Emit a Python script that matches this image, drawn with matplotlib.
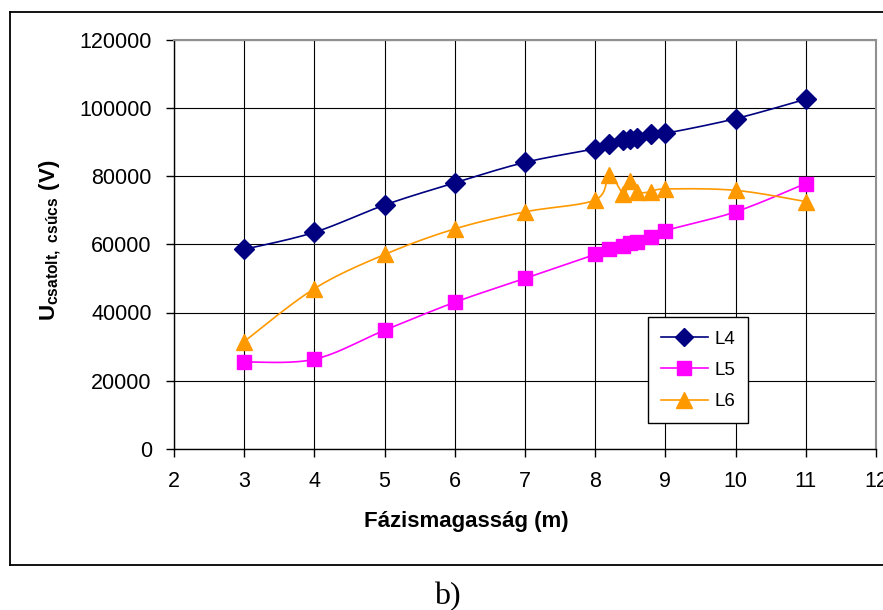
import numpy as np
import matplotlib.pyplot as plt
from matplotlib.lines import Line2D

# -----------------------------------------------------------------------------
# Data
# -----------------------------------------------------------------------------
height_m = [3, 4, 5, 6, 7, 8, 8.2, 8.4, 8.5, 8.6, 8.8, 9, 10, 11]

u_L4 = [58500, 63500, 71500, 78000, 84000, 88000, 89300, 90500, 90800, 91200,
        92200, 92500, 96800, 102500]
u_L5 = [25500, 26300, 34800, 43000, 50000, 57000, 58500, 59500, 60300, 60800,
        62000, 64000, 69500, 77800]
u_L6 = [31500, 47000, 57000, 64500, 69500, 73000, 80300, 74800, 78600, 75300,
        75400, 76200, 75800, 72500]

series_names = ['L4', 'L5', 'L6']
x_ticks = [2, 3, 4, 5, 6, 7, 8, 9, 10, 11, 12]
y_ticks = [0, 20000, 40000, 60000, 80000, 100000, 120000]

plt.rcParams['font.family'] = ['Liberation Sans', 'DejaVu Sans']
plt.rcParams['mathtext.fontset'] = 'custom'
plt.rcParams['mathtext.rm'] = 'Liberation Sans'
plt.rcParams['mathtext.bf'] = 'Liberation Sans:bold'


def smooth_line(x, y, steps=20):
    """Excel-like smoothed line: cubic Bezier segments with 1/6 tangents."""
    p = np.column_stack([x, y]).astype(float)
    n = len(p)
    out = [p[0]]
    t = np.linspace(0, 1, steps)[1:, None]
    for i in range(n - 1):
        prev_pt = p[i - 1] if i > 0 else p[i]
        next_pt = p[i + 2] if i + 2 < n else p[i + 1]
        c1 = p[i] + (p[i + 1] - prev_pt) / 6.0
        c2 = p[i + 1] - (next_pt - p[i]) / 6.0
        seg = ((1 - t) ** 3) * p[i] + 3 * ((1 - t) ** 2) * t * c1 \
            + 3 * (1 - t) * t ** 2 * c2 + t ** 3 * p[i + 1]
        out.extend(seg)
    out = np.array(out)
    return out[:, 0], out[:, 1]


fig = plt.figure(figsize=(8.83, 6.10), dpi=100)
W, H = 883.0, 610.0

# outer chart frame (right edge runs off the picture)
fig.add_artist(Line2D([10 / W, 10 / W], [1 - 12 / H, 1 - 565 / H], color='black', lw=1.3))
fig.add_artist(Line2D([10 / W, 1.0], [1 - 12 / H, 1 - 12 / H], color='black', lw=1.3))
fig.add_artist(Line2D([10 / W, 1.0], [1 - 565 / H, 1 - 565 / H], color='black', lw=1.3))

ax = fig.add_axes([174 / W, 1 - 449 / H, (876 - 174) / W, (449 - 39.5) / H])

styles = [
    dict(color='#000080', marker='D', ms=10),
    dict(color='#FF00FF', marker='s', ms=10.5),
    dict(color='#FF9900', marker='^', ms=11.5),
]

for name, vals, st in zip(series_names, [u_L4, u_L5, u_L6], styles):
    sx, sy = smooth_line(height_m, vals)
    ax.plot(sx, sy, color=st['color'], lw=1.2, zorder=3)
    ax.plot(height_m, vals, linestyle='none', marker=st['marker'], ms=st['ms'],
            color=st['color'], markeredgecolor=st['color'], zorder=4)

ax.set_xlim(2, 12)
ax.set_ylim(0, 120000)
ax.set_xticks(x_ticks)
ax.set_yticks(y_ticks)
ax.set_xticklabels([str(v) for v in x_ticks])
ax.set_yticklabels([str(v) for v in y_ticks])
ax.tick_params(axis='both', direction='out', length=6, width=1, labelsize=15.5,
               color='black')
ax.tick_params(axis='x', pad=10)
ax.tick_params(axis='y', pad=10)
ax.grid(True, color='black', lw=0.8)
ax.set_axisbelow(True)

for side in ['top', 'right']:
    ax.spines[side].set_color('#909090')
    ax.spines[side].set_linewidth(1.5)
for side in ['left', 'bottom']:
    ax.spines[side].set_color('black')
    ax.spines[side].set_linewidth(1.0)

# legend
handles = [Line2D([], [], color=st['color'], lw=1.2, marker=st['marker'],
                  ms=st['ms'] * 0.95, markeredgecolor=st['color']) for st in styles]
leg = ax.legend(handles, series_names, loc='lower left',
                bbox_to_anchor=(0.675, 0.063), borderaxespad=0,
                fontsize=13.5, handlelength=2.5, handletextpad=0.35,
                labelspacing=0.75, borderpad=0.7, fancybox=False,
                framealpha=1, edgecolor='black')
leg.get_frame().set_linewidth(1.0)

# axis titles
fig.text(466 / W, 1 - 527 / H, 'Fázismagasság (m)', ha='center', va='baseline',
         fontsize=16, fontweight='bold')
fig.text(50 / W, 1 - 240 / H, r'$\mathbf{U_{csatolt,\ csúcs}\ (V)}$', ha='center',
         va='center', rotation=90, fontsize=16)

# caption below the chart frame
fig.text(447 / W, 1 - 604 / H, 'b)', ha='center', va='baseline', fontsize=23,
         family='Liberation Serif')

plt.savefig('out.png', dpi=100)
